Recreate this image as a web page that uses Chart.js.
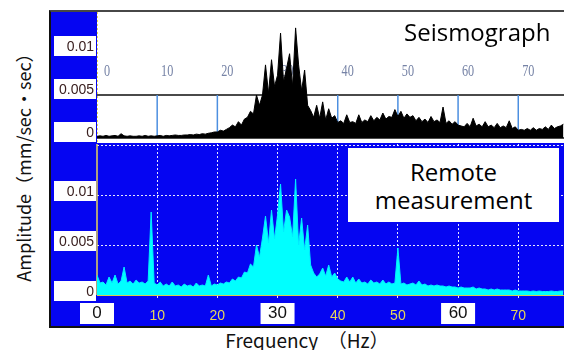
<!DOCTYPE html>
<html>
<head>
<meta charset="utf-8">
<script src="https://cdn.jsdelivr.net/npm/chart.js@4.4.0/dist/chart.umd.min.js"></script>
<style>
  html, body { margin: 0; padding: 0; background: #fff; width: 564px; height: 350px; overflow: hidden; }
  #frame { position: absolute; left: 49px; top: 10px; width: 520px; height: 314px;
           background: #0505f2; border-left: 2px solid #111; border-top: 2px solid #474747; border-bottom: 2px solid #111; }
  canvas { position: absolute; }
  #seis { left: 51px; top: 12px; }
  #remote { left: 51px; top: 144px; }
  #seisTitle { position: absolute; left: 404px; top: 15px; font: 24px "Open Sans"; color: #000; }
  #remoteTitle { position: absolute; left: 348px; top: 148px; width: 211px; height: 74px; background: #fff;
                 font: 24px "Open Sans"; line-height: 28px; text-align: center; padding-top: 10px; box-sizing: border-box; }
  #ytitle { position: absolute; left: -108px; top: 151px; width: 260px; height: 24px; line-height: 24px;
            text-align: center; white-space: nowrap; transform: rotate(-90deg);
            font: 18px "Noto Sans CJK JP"; color: #111; }
  #xtitle { position: absolute; left: 207px; top: 326px; width: 200px; text-align: center; white-space: nowrap;
            font: 19px "Noto Sans CJK JP"; color: #111; }
</style>
</head>
<body>
<div id="frame"></div>
<canvas id="seis" width="513" height="131"></canvas>
<canvas id="remote" width="513" height="182"></canvas>
<div id="seisTitle">Seismograph</div>
<div id="remoteTitle">Remote<br>measurement</div>
<div id="ytitle">Amplitude（mm/sec・sec）</div>
<div id="xtitle">Frequency　（Hz）</div>
<script>
// Frequency bins (Hz)
const freqHz = [
  0, 0.5, 1, 1.5, 2, 2.5, 3, 3.5, 4, 4.5,
  5, 5.5, 6, 6.5, 7, 7.5, 8, 8.5, 9, 9.5,
  10, 10.5, 11, 11.5, 12, 12.5, 13, 13.5, 14, 14.5,
  15, 15.5, 16, 16.5, 17, 17.5, 18, 18.5, 19, 19.5,
  20, 20.5, 21, 21.5, 22, 22.5, 23, 23.5, 24, 24.5,
  25, 25.5, 26, 26.5, 27, 27.5, 28, 28.5, 29, 29.5,
  30, 30.5, 31, 31.5, 32, 32.5, 33, 33.5, 34, 34.5,
  35, 35.5, 36, 36.5, 37, 37.5, 38, 38.5, 39, 39.5,
  40, 40.5, 41, 41.5, 42, 42.5, 43, 43.5, 44, 44.5,
  45, 45.5, 46, 46.5, 47, 47.5, 48, 48.5, 49, 49.5,
  50, 50.5, 51, 51.5, 52, 52.5, 53, 53.5, 54, 54.5,
  55, 55.5, 56, 56.5, 57, 57.5, 58, 58.5, 59, 59.5,
  60, 60.5, 61, 61.5, 62, 62.5, 63, 63.5, 64, 64.5,
  65, 65.5, 66, 66.5, 67, 67.5, 68, 68.5, 69, 69.5,
  70, 70.5, 71, 71.5, 72, 72.5, 73, 73.5, 74, 74.5,
  75, 75.5, 76, 76.5, 77, 77.5
];

// Seismograph amplitude (x 0.001 mm/sec·sec)
const seisAmp = [
  0.2, 0.25, 0.2, 0.3, 0.2, 0.25, 0.3, 0.2, 0.5, 0.25,
  0.2, 0.25, 0.2, 0.2, 0.25, 0.2, 0.3, 0.2, 0.25, 0.2,
  0.25, 0.3, 0.2, 0.3, 0.25, 0.3, 0.35, 0.3, 0.3, 0.35,
  0.35, 0.4, 0.35, 0.45, 0.4, 0.5, 0.45, 0.55, 0.6, 0.7,
  0.7, 0.9, 0.8, 1.0, 1.2, 1.5, 1.3, 1.9, 1.5, 2.2,
  2.4, 3.1, 2.8, 5.0, 3.8, 5.0, 8.5, 5.2, 9.1, 6.0,
  7.3, 12.2, 6.5, 8.1, 9.8, 6.0, 12.8, 8.5, 5.5, 7.9,
  3.8, 3.2, 2.4, 3.8, 2.3, 4.2, 2.1, 3.4, 2.3, 2.6,
  1.8, 2.0, 1.7, 2.7, 1.8, 1.9, 1.7, 2.7, 1.8, 2.1,
  1.9, 2.6, 2.0, 2.4, 2.1, 2.9, 2.2, 2.5, 2.4, 3.3,
  2.5, 3.1, 2.3, 2.8, 2.4, 2.6, 2.0, 2.4, 1.9, 2.2,
  1.8, 2.5, 1.9, 2.1, 1.8, 3.6, 1.7, 2.0, 1.6, 1.9,
  1.5, 1.4, 1.3, 1.7, 1.3, 2.3, 1.4, 1.6, 1.3, 1.9,
  1.3, 1.5, 1.2, 1.7, 1.2, 1.4, 1.2, 2.0, 1.1, 1.3,
  0.9, 1.0, 0.9, 1.1, 0.9, 1.2, 0.9, 1.1, 1.0, 1.3,
  1.0, 1.5, 1.1, 1.3, 1.4, 1.6
];

// Remote measurement amplitude (x 0.001 mm/sec·sec)
const remoteAmp = [
  2.0, 1.2, 1.3, 1.0, 1.8, 1.2, 2.0, 1.1, 1.4, 2.8,
  1.2, 1.4, 1.1, 1.5, 1.2, 1.3, 1.1, 1.4, 8.3, 1.2,
  1.0, 1.3, 0.9, 1.1, 0.9, 1.3, 0.9, 1.0, 0.8, 1.1,
  0.9, 1.0, 0.8, 1.2, 0.9, 1.0, 0.9, 2.0, 0.9, 1.1,
  1.0, 1.2, 1.1, 1.3, 1.2, 1.6, 1.4, 1.8, 1.7, 2.3,
  2.2, 3.1, 2.8, 5.0, 3.8, 5.7, 7.9, 5.2, 8.5, 5.6,
  8.0, 11.1, 6.3, 8.5, 7.8, 5.8, 11.6, 5.0, 7.7, 4.5,
  7.0, 3.0, 2.2, 1.8, 2.1, 2.7, 1.9, 3.0, 1.8, 2.2,
  1.6, 1.4, 1.3, 1.8, 1.3, 1.8, 1.2, 1.6, 1.2, 1.3,
  1.1, 1.5, 1.2, 1.3, 1.1, 1.5, 1.1, 1.3, 1.1, 1.2,
  4.7, 1.1, 1.2, 1.0, 1.1, 1.2, 1.0, 1.4, 1.0, 1.1,
  0.9, 1.0, 0.9, 1.0, 0.9, 0.9, 0.8, 0.9, 0.8, 0.8,
  0.7, 0.8, 0.7, 0.7, 0.7, 0.8, 0.6, 0.7, 0.6, 0.6,
  0.5, 0.6, 0.5, 0.6, 0.5, 0.5, 0.5, 0.5, 0.4, 0.5,
  0.4, 0.4, 0.4, 0.4, 0.35, 0.4, 0.35, 0.4, 0.35, 0.35,
  0.35, 0.4, 0.35, 0.35, 0.4, 0.4
];

// Axes
const freqTicks = [0, 10, 20, 30, 40, 50, 60, 70];
const boxedFreqTicks = [0, 30, 60];
const ampTicks = [0, 0.005, 0.01];
const ampTickLabels = ["0", "0.005", "0.01"];
const remoteGridTicks = [0, 0.005, 0.01, 0.015];

const xMax = 77.6;

const toPoints = (amp) => freqHz.map((f, i) => ({ x: f, y: amp[i] / 1000 }));

// white label boxes + amplitude labels in the blue strip
function drawAmpLabels(ctx, y, shift) {
  ctx.save();
  ampTicks.forEach((v, i) => {
    const py = y.getPixelForValue(v) + shift;
    ctx.fillStyle = "#fff";
    ctx.fillRect(3, py - 10, 42, 20);
    ctx.fillStyle = "#3a2020";
    ctx.font = '14px "Liberation Sans"';
    ctx.textAlign = "right";
    ctx.textBaseline = "middle";
    ctx.fillText(ampTickLabels[i], 43, py + 1);
  });
  ctx.restore();
}

////////// Seismograph panel
const seisDecor = {
  id: "seisDecor",
  beforeDraw(chart) {
    const { ctx, chartArea: a, scales: { y } } = chart;
    ctx.save();
    ctx.fillStyle = "#fff";
    ctx.fillRect(a.left, a.top, a.right - a.left, a.bottom - a.top);
    ctx.restore();
    drawAmpLabels(ctx, y, -6);
  },
  beforeDatasetsDraw(chart) {
    const { ctx, chartArea: a, scales: { x, y } } = chart;
    ctx.save();
    // blue frequency marks between 0.005 and 0
    ctx.strokeStyle = "#4c8fe0";
    ctx.lineWidth = 1.5;
    freqTicks.slice(1).forEach((v) => {
      const px = x.getPixelForValue(v);
      ctx.beginPath();
      ctx.moveTo(px, y.getPixelForValue(0.005));
      ctx.lineTo(px, y.getPixelForValue(0));
      ctx.stroke();
    });
    // left edge
    ctx.strokeStyle = "#e6d65a";
    ctx.lineWidth = 1;
    ctx.setLineDash([2, 2]);
    ctx.beginPath();
    ctx.moveTo(a.left + 0.5, a.top);
    ctx.lineTo(a.left + 0.5, a.bottom);
    ctx.stroke();
    ctx.setLineDash([]);
    // condensed frequency labels
    ctx.fillStyle = "#7683a6";
    ctx.font = '17px "Liberation Serif"';
    ctx.textAlign = "center";
    ctx.textBaseline = "middle";
    freqTicks.forEach((v) => {
      ctx.save();
      ctx.translate(x.getPixelForValue(v) + 10, 60);
      ctx.scale(0.72, 1);
      ctx.fillText(String(v), 0, 0);
      ctx.restore();
    });
    ctx.restore();
  },
};

new Chart(document.getElementById("seis"), {
  type: "line",
  data: {
    datasets: [
      {
        data: toPoints(seisAmp),
        borderColor: "#000",
        backgroundColor: "#000",
        borderWidth: 1,
        pointRadius: 0,
        fill: "origin",
        tension: 0,
      },
    ],
  },
  options: {
    responsive: false,
    animation: false,
    events: [],
    layout: { autoPadding: false, padding: 0 },
    plugins: { legend: { display: false }, tooltip: { enabled: false } },
    scales: {
      x: { type: "linear", min: 0, max: xMax, display: false },
      y: {
        min: -0.000581,
        max: 0.014651,
        afterFit: (s) => { s.width = 46; },
        afterBuildTicks: (s) => { s.ticks = ampTicks.map((v) => ({ value: v })); },
        ticks: { display: false },
        grid: {
          drawTicks: false,
          lineWidth: 2,
          color: (ctx) => (ctx.tick && ctx.tick.value === 0.01 ? "rgba(0,0,0,0)" : "#4a4a4a"),
        },
        border: { display: false },
      },
    },
  },
  plugins: [seisDecor],
});

////////// Remote measurement panel
const remoteDecor = {
  id: "remoteDecor",
  beforeDraw(chart) {
    const { ctx, scales: { x, y } } = chart;
    ctx.save();
    ctx.fillStyle = "#fff";
    boxedFreqTicks.forEach((v) => {
      const px = x.getPixelForValue(v);
      ctx.fillRect(px - 17, x.top + 5, 34, 21);
    });
    ctx.restore();
    drawAmpLabels(ctx, y, -4);
  },
  beforeDatasetsDraw(chart) {
    const { ctx, chartArea: a } = chart;
    ctx.save();
    ctx.strokeStyle = "#e6d65a";
    ctx.lineWidth = 1.5;
    ctx.beginPath();
    ctx.moveTo(a.left, a.top);
    ctx.lineTo(a.left, a.bottom - 3);
    ctx.stroke();
    ctx.restore();
  },
};

const isBoxed = (ctx) => ctx.tick && boxedFreqTicks.includes(ctx.tick.value);

new Chart(document.getElementById("remote"), {
  type: "line",
  data: {
    datasets: [
      {
        data: toPoints(remoteAmp),
        borderColor: "#00eeff",
        backgroundColor: "#00ffff",
        borderWidth: 1,
        pointRadius: 0,
        fill: "origin",
        tension: 0,
      },
    ],
  },
  options: {
    responsive: false,
    animation: false,
    events: [],
    layout: { autoPadding: false, padding: 0 },
    plugins: { legend: { display: false }, tooltip: { enabled: false } },
    scales: {
      x: {
        type: "linear",
        min: 0,
        max: xMax,
        afterFit: (s) => { s.height = 28; },
        afterBuildTicks: (s) => { s.ticks = freqTicks.map((v) => ({ value: v })); },
        ticks: {
          padding: 10,
          maxRotation: 0,
          color: (ctx) => (isBoxed(ctx) ? "#111" : "#e6d65a"),
          font: (ctx) =>
            isBoxed(ctx)
              ? { family: "Liberation Sans", size: 17, lineHeight: 0.65 }
              : { family: "Liberation Sans", size: 14 },
        },
        grid: {
          drawTicks: false,
          lineWidth: 1,
          color: (ctx) => (ctx.tick && ctx.tick.value === 0 ? "rgba(0,0,0,0)" : "rgba(255,255,255,0.9)"),
        },
        border: { display: false, dash: [2, 2] },
      },
      y: {
        min: -0.0003,
        max: 0.0151,
        afterFit: (s) => { s.width = 46; },
        afterBuildTicks: (s) => { s.ticks = remoteGridTicks.map((v) => ({ value: v })); },
        ticks: { display: false },
        grid: {
          drawTicks: false,
          lineWidth: 1,
          color: (ctx) => (ctx.tick && ctx.tick.value === 0 ? "#d8c850" : "rgba(255,255,255,0.9)"),
        },
        border: {
          display: false,
          dash: (ctx) => (ctx.tick && ctx.tick.value === 0 ? [] : [2, 2]),
        },
      },
    },
  },
  plugins: [remoteDecor],
});
</script>
</body>
</html>
